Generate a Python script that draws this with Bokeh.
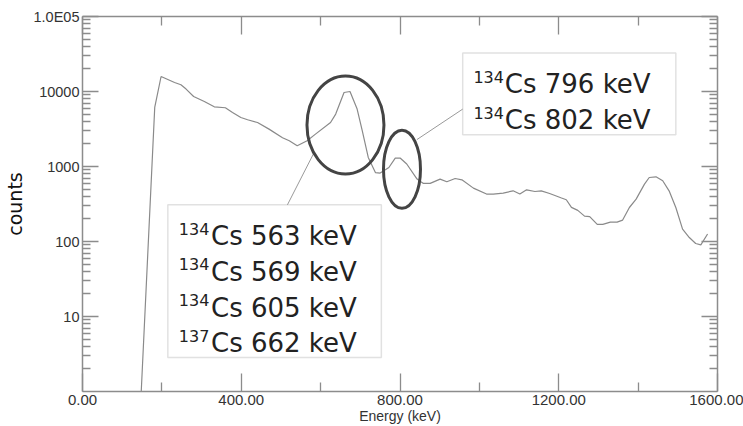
from bokeh.plotting import figure
from bokeh.models import Range1d, LinearAxis, LogAxis, FixedTicker, NumeralTickFormatter, BoxAnnotation
from bokeh.embed import file_html
from bokeh.resources import INLINE
from bokeh.core.properties import value

# ---- spectrum data ----
energy = [148, 182, 198, 232, 248, 261, 280, 307, 332, 360, 378, 399, 416, 441, 470,
          504, 521, 541, 566, 587, 625, 638, 659, 674, 692, 705, 720, 738, 750, 772,
          788, 801, 817, 843, 859, 876, 901, 918, 939, 956, 985, 1018, 1035, 1060,
          1085, 1102, 1119, 1140, 1156, 1177, 1207, 1219, 1232, 1248, 1265, 1278,
          1297, 1311, 1330, 1347, 1361, 1378, 1395, 1416, 1428, 1445, 1462, 1478,
          1495, 1512, 1529, 1545, 1558, 1575]
counts = [1.0, 6120, 15850, 13180, 12280, 10770, 8580, 7360, 6250, 6070, 5250, 4500,
          4200, 3860, 3150, 2420, 2200, 1890, 2200, 2700, 3860, 5000, 9700, 10000,
          5830, 2990, 1320, 830, 817, 970, 1290, 1290, 1080, 680, 595, 595, 679, 625,
          692, 665, 515, 429, 429, 442, 474, 429, 489, 464, 474, 437, 380, 360, 285,
          260, 218, 215, 169, 169, 181, 181, 193, 284, 367, 582, 713, 729, 645, 474,
          284, 146, 113, 94, 90, 126]

# ---- axes ----
x_ticks = [0, 400, 800, 1200, 1600]
x_minor = [200, 600, 1000, 1400]
y_ticks = [10, 100, 1000, 10000, 100000]
y_tick_labels = ["10", "100", "1000", "10000", "1.0E05"]
y_minor = [k * 10 ** d for d in range(0, 5) for k in range(2, 10)]

# ---- annotations ----
ell_x = [662.6, 805]
ell_y = [3575, 918]
ell_w_px = [77, 37]
ell_h_px = [98, 78]

box_left = [958, 215]
box_right = [1495, 753]
box_top = [32500, 308]
box_bottom = [2648, 2.84]

lead_x0 = [958, 516.3]
lead_y0 = [5825, 308]
lead_x1 = [842.6, 581.6]
lead_y1 = [2285, 1463]

iso_text = ["134", "134", "134", "134", "134", "137"]
line_text = ["Cs 796 keV", "Cs 802 keV", "Cs 563 keV", "Cs 569 keV", "Cs 605 keV", "Cs 662 keV"]
sup_x = [985, 985, 242.7, 242.7, 242.7, 242.7]
sup_y = [15710, 5200, 149, 49.8, 16.5, 5.53]
main_x = [1064, 1064, 323.8, 323.8, 323.8, 323.8]
main_y = [12560, 4155, 119.1, 39.8, 13.18, 4.42]

AX = "#8c8c8c"
TXT = "#222222"

p = figure(width=743, height=426, x_range=Range1d(0, 1600), y_range=Range1d(1, 1e5),
           y_axis_type="log", output_backend="svg", toolbar_location=None,
           min_border_left=79, min_border_right=26, min_border_top=16, min_border_bottom=35)
p.grid.visible = False
p.outline_line_color = None
p.background_fill_color = "white"
p.border_fill_color = "white"


def style_axis(ax, major_in, minor_in):
    ax.axis_line_color = AX
    ax.axis_line_width = 1.5
    ax.major_tick_line_color = AX
    ax.minor_tick_line_color = AX
    ax.major_tick_line_width = 1.3
    ax.minor_tick_line_width = 1.3
    ax.major_tick_in = major_in
    ax.major_tick_out = 0
    ax.minor_tick_in = minor_in
    ax.minor_tick_out = 0
    ax.major_label_text_font = "Liberation Sans"
    ax.major_label_text_color = "#333333"


def hide_labels(ax):
    ax.major_label_text_font_size = "1px"
    ax.major_label_text_color = None
    ax.major_label_standoff = 0


xb = p.xaxis[0]
xb.ticker = FixedTicker(ticks=x_ticks, minor_ticks=x_minor)
xb.formatter = NumeralTickFormatter(format="0.00")
style_axis(xb, 18, 9)
xb.major_label_text_font_size = "15px"
xb.major_label_standoff = 3
xb.axis_label = "Energy (keV)"
xb.axis_label_text_font = "Liberation Sans"
xb.axis_label_text_font_size = "14px"
xb.axis_label_text_font_style = "normal"
xb.axis_label_text_color = "#333333"
xb.axis_label_standoff = 0

yl = p.yaxis[0]
yl.ticker = FixedTicker(ticks=y_ticks, minor_ticks=y_minor)
yl.major_label_overrides = {t: s for t, s in zip(y_ticks, y_tick_labels)}
style_axis(yl, 16, 8)
yl.major_label_text_font_size = "14.5px"
yl.major_label_standoff = 3
yl.axis_label = "counts"
yl.axis_label_text_font = "DejaVu Sans"
yl.axis_label_text_font_size = "19px"
yl.axis_label_text_font_style = "normal"
yl.axis_label_text_color = "#111111"
yl.axis_label_standoff = 5

xt = LinearAxis(ticker=FixedTicker(ticks=x_ticks, minor_ticks=x_minor))
style_axis(xt, 18, 9)
hide_labels(xt)
p.add_layout(xt, "above")

yr = LogAxis(ticker=FixedTicker(ticks=y_ticks, minor_ticks=y_minor))
style_axis(yr, 16, 8)
hide_labels(yr)
p.add_layout(yr, "right")

# boxes (outline only, drawn beneath the texts)
for l, r, t, b in zip(box_left, box_right, box_top, box_bottom):
    p.add_layout(BoxAnnotation(left=l, right=r, top=t, bottom=b, fill_color=None,
                               line_color="#9a9a9a", line_width=1.5, level="underlay"))

# spectrum
p.line(energy, counts, line_color="#8a8a8a", line_width=1.2)

# leader lines
p.segment(x0=lead_x0, y0=lead_y0, x1=lead_x1, y1=lead_y1, line_color="#9a9a9a", line_width=1)

# ellipses
p.ellipse(x=ell_x, y=ell_y, width=ell_w_px, height=ell_h_px,
          width_units="screen", height_units="screen",
          fill_color=None, line_color="#444444", line_width=3)

# box texts
p.text(x=sup_x, y=sup_y, text=iso_text, text_font=value("DejaVu Sans"),
       text_font_size="16px", text_color=TXT, text_baseline="alphabetic",
       text_align="left")
p.text(x=main_x, y=main_y, text=line_text, text_font=value("DejaVu Sans"),
       text_font_size="26px", text_color=TXT, text_baseline="alphabetic",
       text_align="left")

open("out.html", "w").write(file_html(p, INLINE))
